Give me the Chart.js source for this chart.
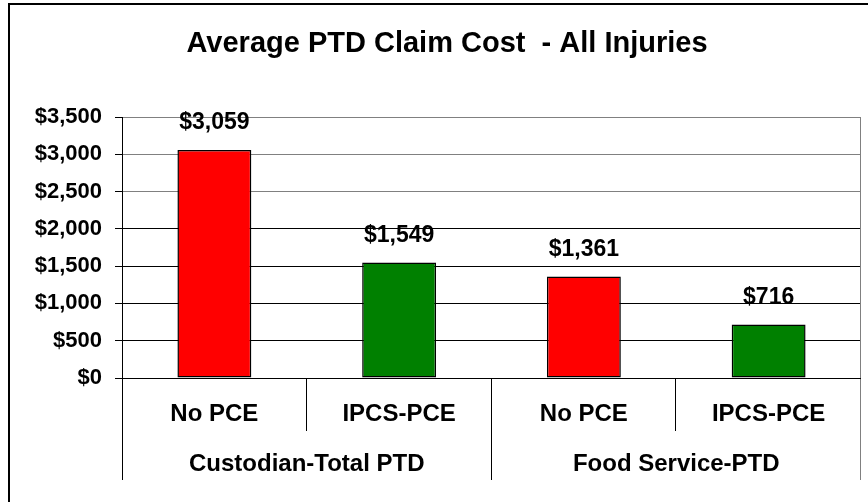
<!DOCTYPE html>
<html>
<head>
<meta charset="utf-8">
<script src="https://cdn.jsdelivr.net/npm/chart.js@4"></script>
<style>
  html, body { margin: 0; padding: 0; background: #fff; }
  canvas { display: block; }
</style>
</head>
<body>
<canvas id="myChart" width="868" height="502"></canvas>
<script>
//  Chart data
const categories = ['No PCE', 'IPCS-PCE', 'No PCE', 'IPCS-PCE'];
const groups = ['Custodian-Total PTD', 'Food Service-PTD'];
const avg_cost = [3059, 1549, 1361, 716];
const y_min = 0;
const y_max = 3500;
const y_step = 500;

const FONT = '"Liberation Sans", Arial, sans-serif';

function money(v) {
    return '$' + Number(v).toLocaleString('en-US');
}

//  Draws the frame, title, value labels and the two-level category axis
const extras = {
    id: 'extras',
    beforeDraw(chart) {
        const ctx = chart.ctx;
        ctx.save();
        ctx.fillStyle = '#fff';
        ctx.fillRect(0, 0, chart.width, chart.height);
        ctx.strokeStyle = '#000';
        ctx.lineWidth = 2;
        ctx.strokeRect(9, 4, 860, 520);
        ctx.restore();
    },
    afterDraw(chart) {
        const ctx = chart.ctx;
        const x = chart.scales.x;
        const area = chart.chartArea;
        const half = (x.getPixelForValue(1) - x.getPixelForValue(0)) / 2;
        ctx.save();

        // title
        ctx.fillStyle = '#000';
        ctx.textAlign = 'center';
        ctx.textBaseline = 'middle';
        ctx.font = 'bold 29px ' + FONT;
        ctx.fillText('Average PTD Claim Cost  - All Injuries', 447, 44);

        // value labels
        ctx.font = 'bold 23px ' + FONT;
        chart.getDatasetMeta(0).data.forEach(function(bar, i) {
            ctx.fillText(money(avg_cost[i]), bar.x, bar.y - 27);
        });

        // plot right edge in gray
        ctx.strokeStyle = '#808080';
        ctx.lineWidth = 1;
        ctx.beginPath();
        ctx.moveTo(area.right - 0.5, area.top);
        ctx.lineTo(area.right - 0.5, 480);
        ctx.stroke();

        // x axis line
        ctx.strokeStyle = '#000';
        ctx.beginPath();
        ctx.moveTo(area.left, area.bottom + 0.5);
        ctx.lineTo(area.right, area.bottom + 0.5);
        ctx.stroke();

        // category dividers
        for (let i = 0; i <= categories.length; i++) {
            const px = Math.round(x.getPixelForValue(0) - half + i * half * 2) - 0.5;
            const long = (i % 2 === 0);
            if (i === 0 || i === categories.length) continue;
            ctx.beginPath();
            ctx.moveTo(px, area.bottom);
            ctx.lineTo(px, long ? 480 : 431);
            ctx.stroke();
        }
        ctx.beginPath();
        ctx.moveTo(area.left + 0.5, area.bottom);
        ctx.lineTo(area.left + 0.5, 480);
        ctx.stroke();

        // category and group labels
        ctx.font = 'bold 24px ' + FONT;
        categories.forEach(function(c, i) {
            ctx.fillText(c, x.getPixelForValue(i), 414);
        });
        groups.forEach(function(g, j) {
            const cx = (x.getPixelForValue(j * 2) + x.getPixelForValue(j * 2 + 1)) / 2;
            ctx.fillText(g, cx, 464);
        });
        ctx.restore();
    }
};

function draw_graph() {
    const ctx = document.getElementById('myChart');
    new Chart(ctx, {
        type: 'bar',
        data: {
            labels: categories,
            datasets: [{
                data: avg_cost,
                backgroundColor: ['#FF0000', '#008000', '#FF0000', '#008000'],
                borderColor: '#000',
                borderWidth: 1.5,
                borderSkipped: false,
                barPercentage: 0.4,
                categoryPercentage: 1.0
            }]
        },
        options: {
            responsive: false,
            animation: false,
            devicePixelRatio: 1,
            layout: { padding: { top: 117, right: 7, bottom: 124, left: 0 } },
            plugins: {
                legend: { display: false },
                tooltip: { enabled: false },
                title: { display: false }
            },
            scales: {
                x: { display: false },
                y: {
                    min: y_min,
                    max: y_max,
                    afterFit: function(scale) { scale.width = 122; },
                    border: { display: true, color: '#000', width: 1 },
                    grid: {
                        color: function(c) {
                            return c.tick && c.tick.value >= 2500 ? '#808080' : '#000';
                        },
                        tickColor: '#000',
                        tickLength: 7,
                        lineWidth: 1
                    },
                    ticks: {
                        stepSize: y_step,
                        padding: 13,
                        color: '#000',
                        font: { family: FONT, size: 22, weight: 'bold' },
                        callback: function(v) { return money(v); }
                    }
                }
            }
        },
        plugins: [extras]
    });
}
draw_graph();
</script>
</body>
</html>
